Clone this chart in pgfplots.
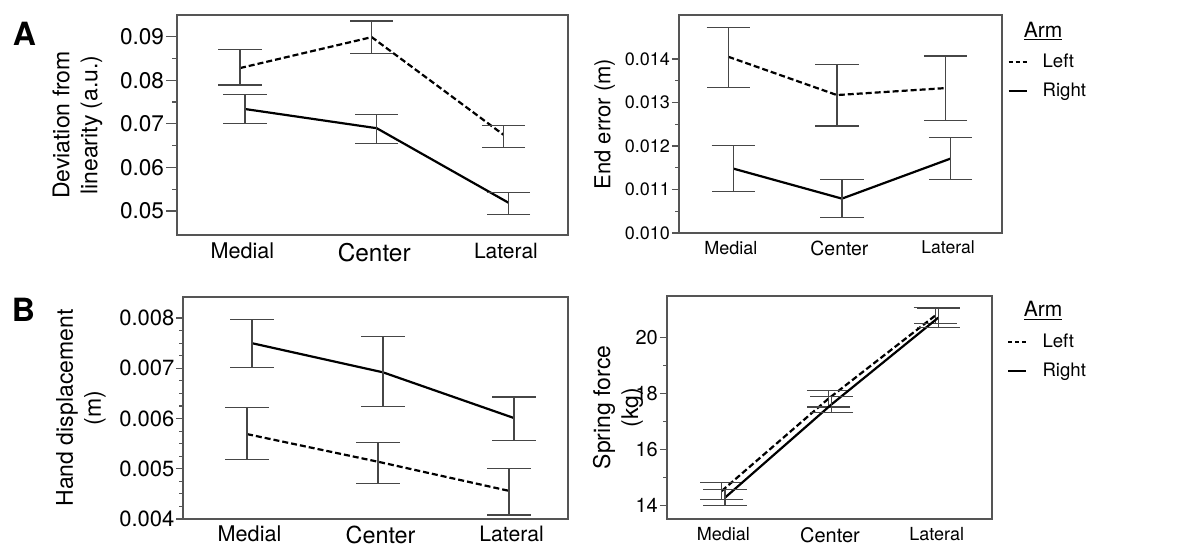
\documentclass[border=0pt]{standalone}
\usepackage{fontspec}
\setmainfont{TeX Gyre Heros}
\usepackage{pgfplots}
\usepackage{pgfplotstable}
\pgfplotsset{compat=1.18}

% x  y  ep(plus)  em(minus)
\pgfplotstableread{
x y ep em
-0.019 0.0828 0.0042 0.0039
0.981 0.0899 0.0037 0.0037
1.981 0.0675 0.0021 0.0030
}\ALeft
\pgfplotstableread{
x y ep em
0.019 0.0734 0.0033 0.0034
1.019 0.0690 0.0032 0.0035
2.019 0.0519 0.0023 0.0027
}\ARight
\pgfplotstableread{
x y ep em
-0.023 0.01405 0.00067 0.00070
0.977 0.01317 0.00071 0.00071
1.977 0.01333 0.00074 0.00074
}\BLeftA
\pgfplotstableread{
x y ep em
0.023 0.01148 0.00054 0.00053
1.023 0.01079 0.00044 0.00044
2.023 0.01171 0.00049 0.00048
}\BRightA
\pgfplotstableread{
x y ep em
-0.019 0.00569 0.00053 0.00051
0.981 0.00514 0.00039 0.00043
1.981 0.00456 0.00044 0.00048
}\CLeft
\pgfplotstableread{
x y ep em
0.019 0.00750 0.00048 0.00048
1.019 0.00692 0.00071 0.00068
2.019 0.00601 0.00042 0.00044
}\CRight
\pgfplotstableread{
x y ep em
-0.015 14.53 0.30 0.30
0.985 17.82 0.30 0.30
1.985 20.78 0.29 0.28
}\DLeft
\pgfplotstableread{
x y ep em
0.015 14.29 0.29 0.29
1.015 17.62 0.28 0.29
2.015 20.71 0.34 0.34
}\DRight

\definecolor{axgray}{RGB}{85,85,85}
\definecolor{ebgray}{RGB}{70,70,70}

\pgfplotsset{
  panel/.style={
    scale only axis, anchor=south west,
    axis line style={axgray, line width=0.7pt},
    xtick={0,1,2},
    major x tick style={draw=none},
    ytick pos=left, tick align=outside,
    minor y tick num=1,
    y tick style={axgray, line width=0.6pt},
    major tick length=3.6pt, minor tick length=2pt,
    x tick label style={yshift=3.1pt},
    y tick label style={/pgf/number format/assume math mode=true, inner sep=0.8pt},
    scaled y ticks=false,
    ylabel style={font=\fontsize{11.5}{14}\selectfont, align=center, anchor=south},
    clip=false,
  },
  catlabels/.style n args={3}{xticklabels={{\fontsize{#1}{14}\selectfont Medial},{\fontsize{#2}{14}\selectfont Center},{\fontsize{#3}{14}\selectfont Lateral}}},
  leftarm/.style={black, line width=1.1pt, dash pattern=on 3pt off 1.5pt, mark=none, forget plot,
    error bars/.cd, y dir=both, y explicit,
    error bar style={solid, ebgray, line width=0.6pt},
    error mark options={rotate=90, solid, ebgray, line width=0.6pt, mark size=10.8pt}},
  rightarm/.style={black, line width=1.1pt, solid, mark=none, forget plot,
    error bars/.cd, y dir=both, y explicit,
    error bar style={solid, ebgray, line width=0.6pt},
    error mark options={rotate=90, solid, ebgray, line width=0.6pt, mark size=10.8pt}},
  armlegend/.style={
    legend image code/.code={\draw[##1] (0pt,0pt) -- (9pt,0pt); \path (16.5pt,0pt);},
    legend cell align=left,
    legend style={draw=none, fill=none, inner sep=0pt,
      font=\fontsize{9.3}{11}\selectfont, row sep=0pt,
      nodes={inner sep=0pt, minimum height=14.5pt}},
  },
}

\begin{document}
\begin{tikzpicture}
\useasboundingbox (0pt,0pt) rectangle (599pt,273pt);

\node[font=\bfseries\fontsize{16}{18}\selectfont] at (12.25pt,256pt) {A};
\node[font=\bfseries\fontsize{16}{18}\selectfont] at (11.75pt,118pt) {B};

% A left
\begin{axis}[panel, at={(88.5pt,155.5pt)}, width=195.5pt, height=110pt,
  major tick length=5.5pt, minor tick length=2.5pt,
  x tick label style={yshift=1.9pt},
  catlabels={10.8}{12.2}{10.5},
  xmin=-0.497, xmax=2.471, ymin=0.04449, ymax=0.09498,
  ytick={0.05,0.06,0.07,0.08,0.09},
  yticklabel style={font=\fontsize{11.3}{13}\selectfont, /pgf/number format/fixed, /pgf/number format/fixed zerofill, /pgf/number format/precision=2},
  ylabel={Deviation from\\linearity (a.u.)},
  ylabel style={at={(axis description cs:-0.173,0.5)}}]
\addplot[leftarm] table[x=x,y=y,y error plus=ep,y error minus=em]{\ALeft};
\addplot[rightarm] table[x=x,y=y,y error plus=ep,y error minus=em]{\ARight};
\end{axis}

% A right
\begin{axis}[panel, armlegend, at={(339.5pt,156.5pt)}, width=161.5pt, height=109pt,
  catlabels={9}{9.7}{8.8},
  xmin=-0.477, xmax=2.497, ymin=0.0100, ymax=0.01501,
  ytick={0.010,0.011,0.012,0.013,0.014},
  yticklabel style={font=\fontsize{9}{11}\selectfont, /pgf/number format/fixed, /pgf/number format/fixed zerofill, /pgf/number format/precision=3},
  ylabel={End error (m)},
  ylabel style={font=\fontsize{11}{14}\selectfont, at={(axis description cs:-0.176,0.5)}},
  legend style={at={(axis description cs:1.0155,0.851)}, anchor=north west}]
\addplot[leftarm] table[x=x,y=y,y error plus=ep,y error minus=em]{\BLeftA};
\addplot[rightarm] table[x=x,y=y,y error plus=ep,y error minus=em]{\BRightA};
\addlegendimage{black, line width=1.1pt, dash pattern=on 2pt off 1.5pt}
\addlegendimage{black, line width=1.1pt}
\legend{Left,Right}
\node[font=\fontsize{10.5}{12}\selectfont, anchor=base] at (axis description cs:1.127,0.899) {\underline{Arm}};
\end{axis}

% B left
\begin{axis}[panel, at={(91.5pt,13.5pt)}, width=192.5pt, height=111pt,
  major tick length=3.3pt,
  x tick label style={yshift=0.4pt},
  catlabels={10.8}{11.7}{10.6},
  xmin=-0.508, xmax=2.431, ymin=0.004, ymax=0.00842,
  ytick={0.004,0.005,0.006,0.007,0.008}, minor y tick num=3,
  yticklabel style={font=\fontsize{11}{13}\selectfont, /pgf/number format/fixed, /pgf/number format/fixed zerofill, /pgf/number format/precision=3},
  ylabel={Hand displacement\\(m)},
  ylabel style={at={(axis description cs:-0.182,0.5)}}]
\addplot[leftarm] table[x=x,y=y,y error plus=ep,y error minus=em]{\CLeft};
\addplot[rightarm] table[x=x,y=y,y error plus=ep,y error minus=em]{\CRight};
\end{axis}

% B right
\begin{axis}[panel, armlegend, at={(333.5pt,13.5pt)}, width=162.5pt, height=111.5pt,
  catlabels={9}{10}{9},
  xmin=-0.528, xmax=2.518, ymin=13.53, ymax=21.48,
  ytick={14,16,18,20},
  yticklabel style={font=\fontsize{10}{12}\selectfont},
  ylabel={Spring force\\(kg)},
  ylabel style={at={(axis description cs:-0.052,0.5)}},
  legend style={at={(axis description cs:1.046,0.859)}, anchor=north west}]
\addplot[leftarm] table[x=x,y=y,y error plus=ep,y error minus=em]{\DLeft};
\addplot[rightarm] table[x=x,y=y,y error plus=ep,y error minus=em]{\DRight};
\addlegendimage{black, line width=1.1pt, dash pattern=on 2pt off 1.5pt}
\addlegendimage{black, line width=1.1pt}
\legend{Left,Right}
\node[font=\fontsize{10.5}{12}\selectfont, anchor=base] at (axis description cs:1.157,0.906) {\underline{Arm}};
\end{axis}
\end{tikzpicture}
\end{document}
